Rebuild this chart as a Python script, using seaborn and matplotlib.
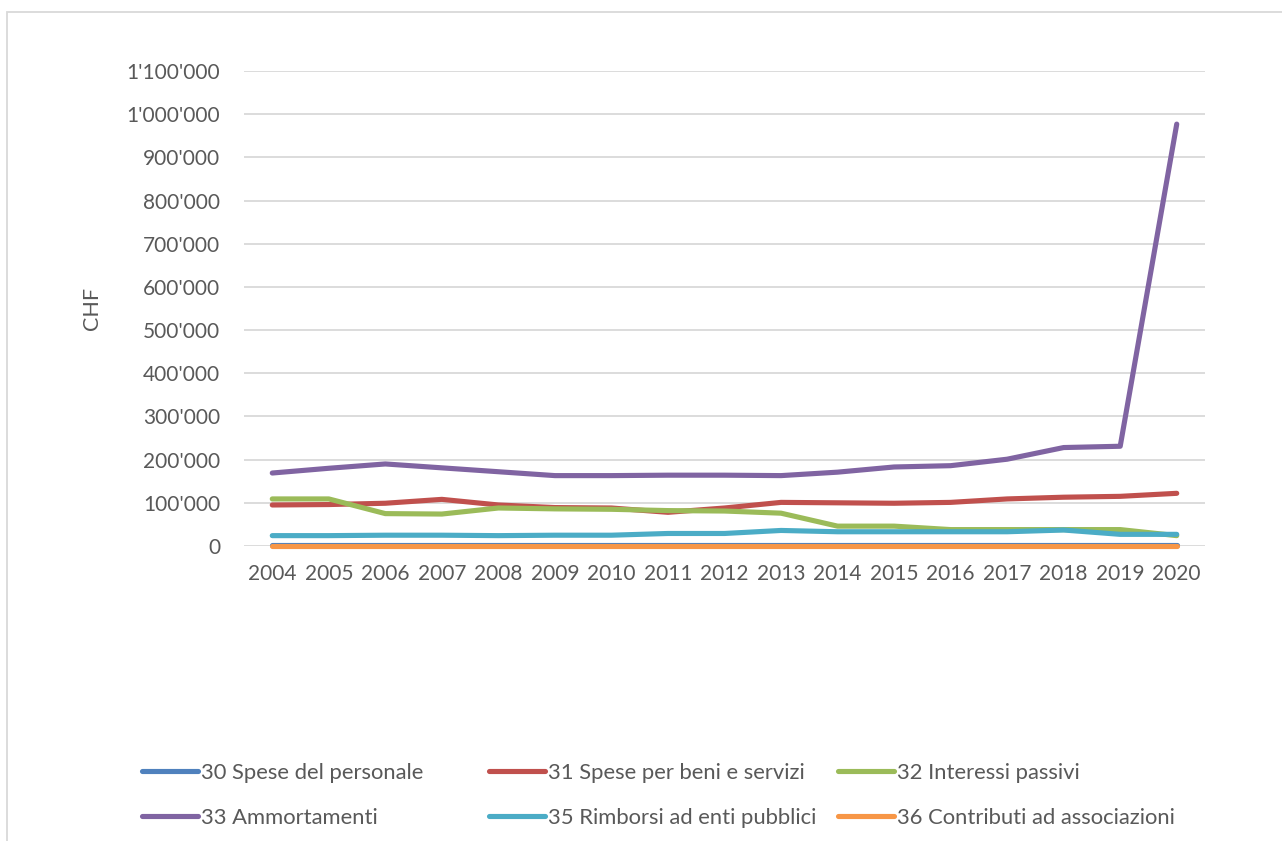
import matplotlib
matplotlib.use("Agg")
import matplotlib.pyplot as plt
from matplotlib.patches import Rectangle
from matplotlib.ticker import FuncFormatter, MultipleLocator
import seaborn as sns
import pandas as pd

years = list(range(2004, 2021))

series_names = [
    "30 Spese del personale",
    "31 Spese per beni e servizi",
    "32 Interessi passivi",
    "33 Ammortamenti",
    "35 Rimborsi ad enti pubblici",
    "36 Contributi ad associazioni",
]

spese_personale = [3000, 3000, 3000, 3000, 3000, 3000, 3000, 3000, 3000, 3000, 3000, 3000, 3000, 3000, 3000, 3000, 3000]
spese_beni_servizi = [95000, 96000, 99000, 108000, 95000, 89000, 88000, 78000, 88000, 101000, 100000, 99000, 101000, 109000, 113000, 115000, 122000]
interessi_passivi = [109000, 109000, 75000, 74000, 88000, 86000, 85000, 82000, 81000, 76000, 46000, 46000, 38000, 38000, 38000, 38000, 24000]
ammortamenti = [169000, 180000, 190000, 181000, 172000, 163000, 163000, 164000, 164000, 163000, 171000, 183000, 186000, 201000, 228000, 231000, 977000]
rimborsi_enti = [24000, 24000, 25000, 25000, 24000, 25000, 25000, 29000, 29000, 36000, 33000, 33000, 33000, 33000, 37000, 27000, 27000]
contributi_assoc = [1000, 1000, 1000, 1000, 1000, 1000, 1000, 1000, 1000, 1000, 1000, 1000, 1000, 1000, 1000, 1000, 1000]

values = [spese_personale, spese_beni_servizi, interessi_passivi,
          ammortamenti, rimborsi_enti, contributi_assoc]
colors = ["#4F81BD", "#C0504D", "#9BBB59", "#8064A2", "#4BACC6", "#F79646"]

df = pd.DataFrame(
    [(y, name, v) for name, vals in zip(series_names, values) for y, v in zip(years, vals)],
    columns=["year", "series", "value"],
)

sns.set_theme(style="white")
plt.rcParams["font.family"] = ["Lato", "DejaVu Sans"]

W, H = 1282, 841
fig = plt.figure(figsize=(W / 100, H / 100), dpi=100)
ax = fig.add_axes([244 / W, 1 - 546 / H, (1205 - 244) / W, (546 - 71) / H])

sns.lineplot(data=df, x="year", y="value", hue="series", hue_order=series_names,
             palette=colors, linewidth=3.7, legend=False, ax=ax, zorder=3)
for ln in ax.lines:
    ln.set_solid_capstyle("round")
    ln.set_solid_joinstyle("round")
    ln.set_clip_on(False)

ax.set_xlim(2003.5, 2020.5)
ax.set_ylim(0, 1100000)
ax.set_xticks(years)
ax.set_xticklabels([str(y) for y in years])
ax.yaxis.set_major_locator(MultipleLocator(100000))
ax.yaxis.set_major_formatter(FuncFormatter(lambda v, p: f"{int(round(v)):,}".replace(",", "'")))
ax.grid(axis="y", color="#D9D9D9", linewidth=1.3, zorder=0)
ax.grid(axis="x", visible=False)
for s in ax.spines.values():
    s.set_visible(False)
ax.tick_params(axis="both", length=0, labelsize=15, colors="#595959")
ax.tick_params(axis="x", pad=13)
ax.tick_params(axis="y", pad=17)
ax.set_xlabel("")
ax.set_ylabel("CHF", fontsize=15.5, color="#595959", labelpad=18)

# legend: three columns, two rows
lines = ax.lines
cols = [(142, [0, 3]), (489, [1, 4]), (838, [2, 5])]
for x0, idx in cols:
    leg = fig.legend(handles=[lines[i] for i in idx], labels=[series_names[i] for i in idx],
                     loc="upper left", bbox_to_anchor=(x0 / W, 1 - 763 / H),
                     frameon=False, fontsize=15.8, handlelength=2.55, handletextpad=0.12,
                     borderpad=0, borderaxespad=0, labelspacing=1.13, labelcolor="#595959")
    for t in leg.get_lines():
        t.set_linewidth(3.7)

fig.add_artist(Rectangle((7 / W, -0.1), 2, 1 - 12 / H + 0.1, transform=fig.transFigure,
                         fill=False, edgecolor="#D9D9D9", linewidth=1.3))

fig.savefig("out.png", dpi=100, facecolor="white")
